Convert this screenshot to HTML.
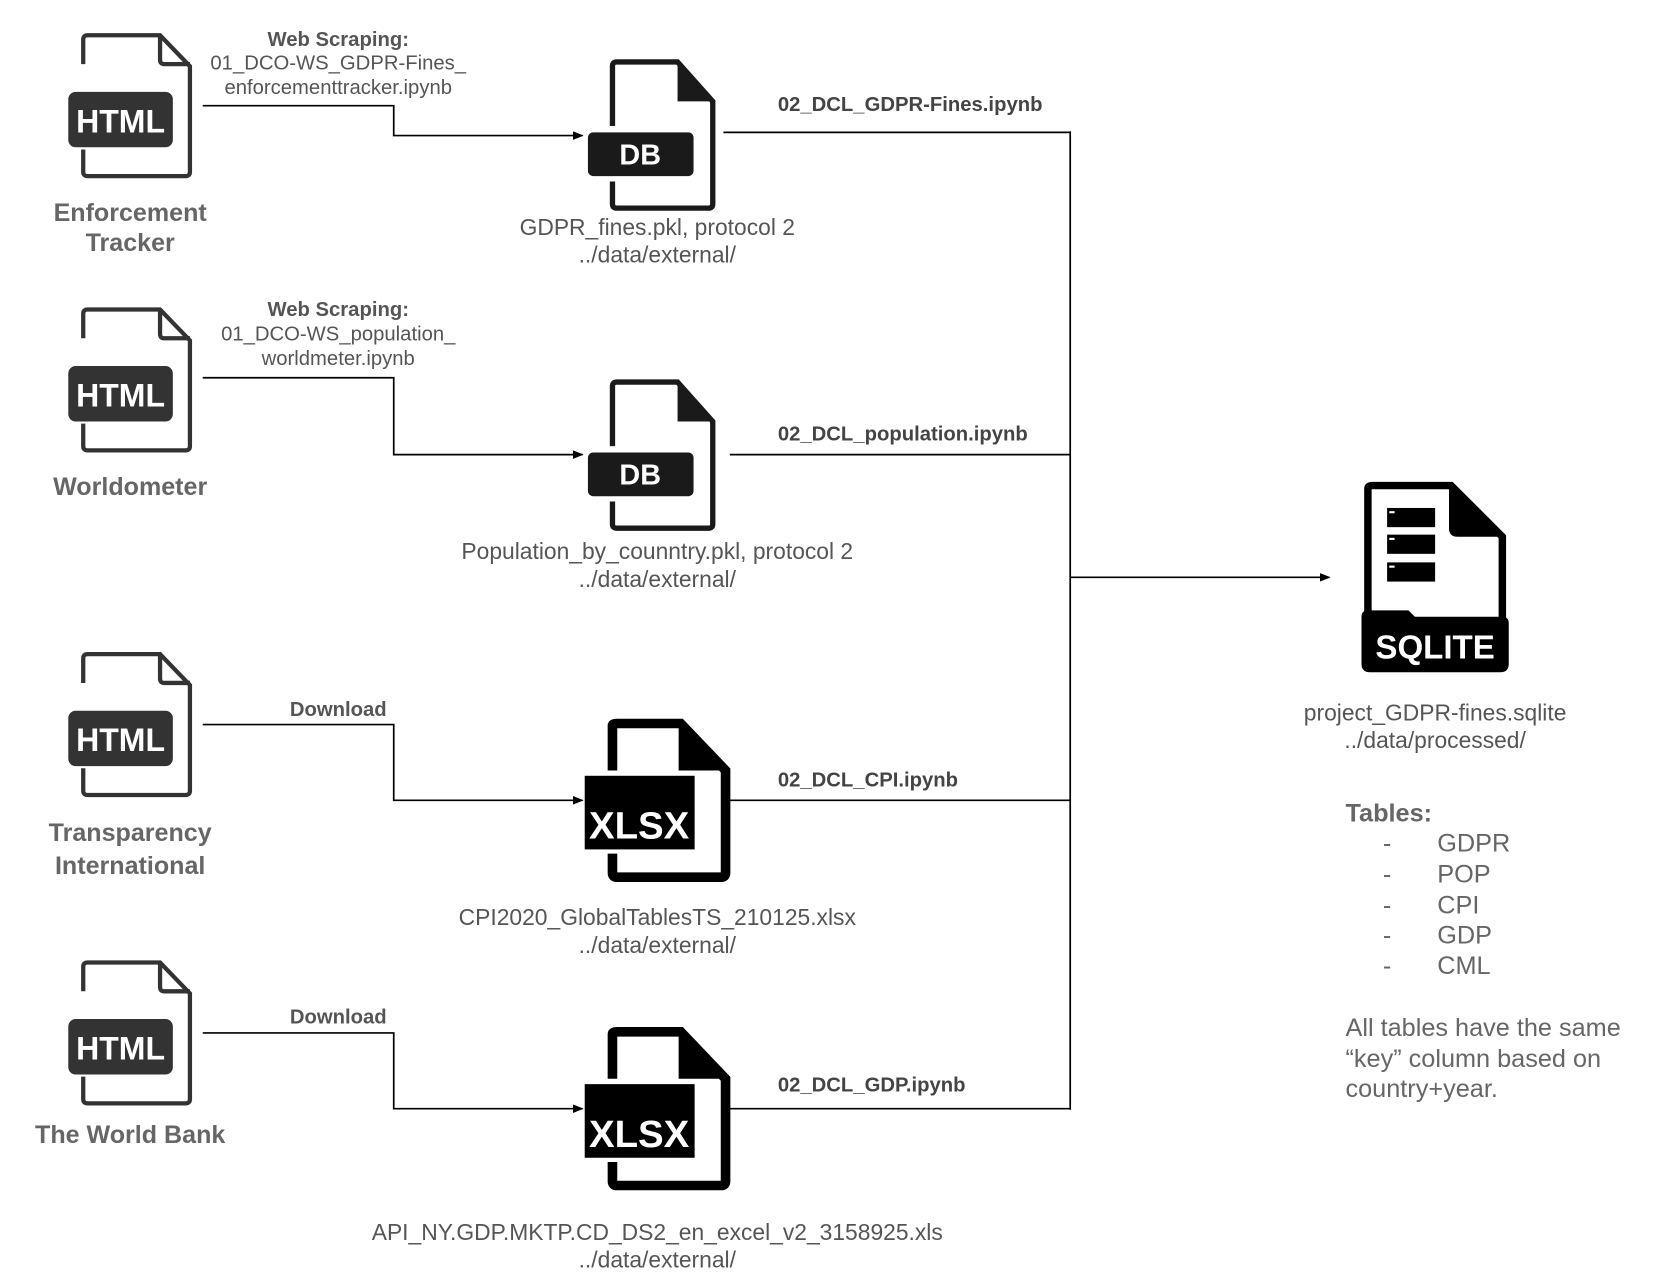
<!DOCTYPE html>
<html><head><meta charset="utf-8"><style>
html,body{margin:0;padding:0;background:#fff;}
svg{display:block;}
text{font-family:"Liberation Sans",Arial,sans-serif;}
.lbl{fill:#666;font-weight:bold;font-size:23.5px;text-anchor:middle;}
.cap{fill:#555;font-size:19px;text-anchor:middle;}
.capb{fill:#555;font-size:19px;font-weight:bold;text-anchor:middle;}
.fn{fill:#555;font-size:21.4px;text-anchor:middle;}
.dcl{fill:#444;font-size:19px;font-weight:bold;}
.tb{fill:#666;font-size:23.7px;}
</style></head><body>
<svg width="1672" height="1288" viewBox="0 0 1567 1207" xmlns="http://www.w3.org/2000/svg">
<defs>
<marker id="ar" markerWidth="10" markerHeight="8" refX="9" refY="4" orient="auto" markerUnits="userSpaceOnUse">
<path d="M0,0 L10,4 L0,8 z" fill="#000"/></marker>
<g id="html">
<path d="M78,60 V37 Q78,33 82,33 H150 L178,62 V161 Q178,165 174,165 H82 Q78,165 78,161 V140" fill="none" stroke="#333" stroke-width="4"/>
<path d="M150,33 V56 Q150,60 154,60 H178" fill="none" stroke="#333" stroke-width="4"/>
<rect x="64" y="86" width="98" height="52" rx="7" fill="#333"/>
<text x="113" y="124" fill="#fff" font-weight="bold" font-size="30" text-anchor="middle">HTML</text>
</g>
<g id="db">
<path d="M574,118 V62 Q574,58 578,58 H635 L668,95 V191 Q668,195 664,195 H578 Q574,195 574,191 V170" fill="none" stroke="#1a1a1a" stroke-width="5"/>
<path d="M635,58 L668,95 H635 z" fill="#1a1a1a"/>
<rect x="551" y="124" width="99" height="41" rx="5" fill="#1a1a1a"/>
<text x="600" y="154" fill="#fff" font-size="27" font-weight="bold" text-anchor="middle">DB</text>
</g>
<g id="xlsx">
<path d="M574,722 V680 Q574,678 578,678 H638 L680,722 V818 Q680,822 676,822 H578 Q574,822 574,818 V800" fill="none" stroke="#000" stroke-width="9"/>
<path d="M636,676 L684,722 H636 z" fill="#000"/>
<rect x="548" y="727" width="103" height="69" fill="#000"/>
<text x="599" y="786" fill="#fff" font-weight="bold" font-size="36" text-anchor="middle">XLSX</text>
</g>
</defs>

<use href="#html"/>
<use href="#html" y="257"/>
<use href="#html" y="580"/>
<use href="#html" y="869"/>
<text class="lbl" x="122" y="207">Enforcement</text>
<text class="lbl" x="122" y="235">Tracker</text>
<text class="lbl" x="122" y="464" font-size="25">Worldometer</text>
<text class="lbl" x="122" y="788">Transparency</text>
<text class="lbl" x="122" y="819">International</text>
<text class="lbl" x="122" y="1071">The World Bank</text>

<g fill="none" stroke="#000" stroke-width="1.6">
<path d="M190,99 H369 V127 H546" marker-end="url(#ar)"/>
<path d="M190,354 H369 V426 H546" marker-end="url(#ar)"/>
<path d="M190,679 H369 V750 H546" marker-end="url(#ar)"/>
<path d="M190,968 H369 V1039 H546" marker-end="url(#ar)"/>
<path d="M678,124 H1003 M684,426 H1003 M684,750 H1003 M684,1039 H1003 M1003,123 V1040"/>
<path d="M1003,541 H1246" marker-end="url(#ar)"/>
</g>

<text class="capb" x="317" y="43">Web Scraping:</text>
<text class="cap" x="317" y="65">01_DCO-WS_GDPR-Fines_</text>
<text class="cap" x="317" y="88">enforcementtracker.ipynb</text>
<text class="capb" x="317" y="296">Web Scraping:</text>
<text class="cap" x="317" y="319">01_DCO-WS_population_</text>
<text class="cap" x="317" y="342">worldmeter.ipynb</text>
<text class="capb" x="317" y="671">Download</text>
<text class="capb" x="317" y="959">Download</text>

<use href="#db"/>
<use href="#db" y="300"/>
<use href="#xlsx"/>
<use href="#xlsx" y="289"/>

<text class="fn" x="616" y="220">GDPR_fines.pkl, protocol 2</text>
<text class="fn" x="616" y="246">../data/external/</text>
<text class="fn" x="616" y="524">Population_by_counntry.pkl, protocol 2</text>
<text class="fn" x="616" y="550">../data/external/</text>
<text class="fn" x="616" y="867">CPI2020_GlobalTablesTS_210125.xlsx</text>
<text class="fn" x="616" y="893">../data/external/</text>
<text class="fn" x="616" y="1162">API_NY.GDP.MKTP.CD_DS2_en_excel_v2_3158925.xls</text>
<text class="fn" x="616" y="1188">../data/external/</text>

<text class="dcl" x="729" y="104">02_DCL_GDPR-Fines.ipynb</text>
<text class="dcl" x="729" y="413">02_DCL_population.ipynb</text>
<text class="dcl" x="729" y="737">02_DCL_CPI.ipynb</text>
<text class="dcl" x="729" y="1023">02_DCL_GDP.ipynb</text>

<path d="M1282,580 V458 Q1282,455 1286,455 H1360 L1408,503 V580" fill="none" stroke="#000" stroke-width="7"/>
<path d="M1358,453 L1411,503 H1366 Q1358,503 1358,495 z" fill="#000"/>
<rect x="1300" y="476" width="45" height="18" fill="#000"/>
<rect x="1300" y="501" width="45" height="18" fill="#000"/>
<rect x="1300" y="527" width="45" height="18" fill="#000"/>
<rect x="1302" y="479" width="5" height="2" fill="#fff"/>
<rect x="1302" y="504" width="5" height="2" fill="#fff"/>
<rect x="1302" y="530" width="5" height="2" fill="#fff"/>
<path d="M1276,578 Q1276,572 1282,572 H1320 L1326,578 H1408 Q1414,578 1414,584 V622 Q1414,630 1406,630 H1284 Q1276,630 1276,622 z" fill="#000"/>
<text x="1345" y="617" fill="#fff" font-weight="bold" font-size="31" text-anchor="middle">SQLITE</text>

<text class="fn" x="1345" y="675">project_GDPR-fines.sqlite</text>
<text class="fn" x="1345" y="701">../data/processed/</text>

<text class="tb" x="1261" y="770" font-weight="bold">Tables:</text>
<g class="tb">
<text x="1296" y="798">-</text><text x="1347" y="798">GDPR</text>
<text x="1296" y="827">-</text><text x="1347" y="827">POP</text>
<text x="1296" y="856">-</text><text x="1347" y="856">CPI</text>
<text x="1296" y="884">-</text><text x="1347" y="884">GDP</text>
<text x="1296" y="913">-</text><text x="1347" y="913">CML</text>
</g>
<text class="tb" x="1261" y="971">All tables have the same</text>
<text class="tb" x="1261" y="1000">“key” column based on</text>
<text class="tb" x="1261" y="1028">country+year.</text>
</svg>
</body></html>
